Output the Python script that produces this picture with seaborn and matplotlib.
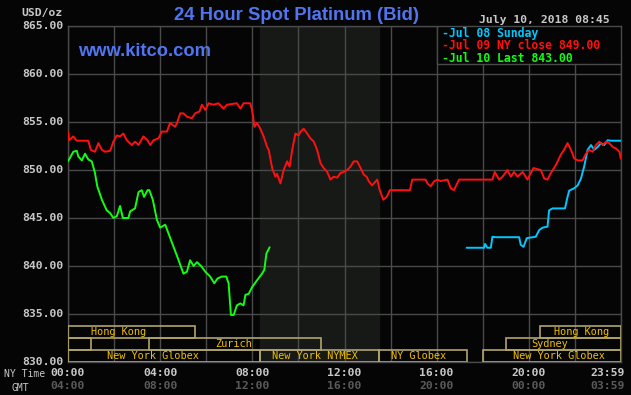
import matplotlib
matplotlib.use("Agg")
import matplotlib.pyplot as plt
import seaborn as sns
import pandas as pd
from matplotlib.patches import Rectangle

# ---------------- data ----------------
green_h = [0.0, 0.23, 0.38, 0.45, 0.6, 0.74, 0.88, 1.03, 1.17, 1.27, 1.47, 1.68, 1.83, 1.97,
           2.12, 2.26, 2.38, 2.62, 2.7, 2.91, 3.06, 3.2, 3.3, 3.45, 3.53, 3.68, 3.86, 4.0,
           4.22, 4.36, 4.58, 4.8, 5.01, 5.16, 5.3, 5.45, 5.6, 5.81, 5.96, 6.17, 6.35, 6.49,
           6.68, 6.87, 6.97, 7.07, 7.19, 7.33, 7.48, 7.62, 7.7, 7.84, 7.99, 8.2, 8.42, 8.52,
           8.61, 8.75]
green_p = [850.9, 851.9, 852.0, 851.4, 851.0, 851.7, 851.1, 850.9, 849.7, 848.3, 846.9, 845.8,
           845.5, 845.0, 845.2, 846.25, 845.0, 845.0, 845.7, 846.0, 847.7, 847.9, 847.2, 847.9,
           847.9, 846.9, 844.8, 844.0, 844.3, 843.4, 842.0, 840.6, 839.2, 839.4, 840.6, 840.0,
           840.4, 839.9, 839.4, 838.9, 838.2, 838.7, 838.9, 838.9, 838.2, 834.9, 834.9, 835.9,
           836.1, 835.9, 837.0, 837.1, 837.8, 838.5, 839.2, 839.6, 841.3, 841.95]

red_h = [0.0, 0.05, 0.23, 0.38, 0.88, 0.99, 1.17, 1.32, 1.47, 1.61, 1.83, 1.97, 2.12, 2.26,
         2.4, 2.55, 2.77, 2.91, 3.06, 3.27, 3.45, 3.57, 3.71, 3.93, 4.07, 4.29, 4.43, 4.65,
         4.73, 4.87, 5.01, 5.16, 5.38, 5.52, 5.71, 5.81, 5.96, 6.1, 6.32, 6.53, 6.75, 6.9,
         7.33, 7.48, 7.62, 7.91, 7.99, 8.09, 8.2, 8.35, 8.49, 8.64, 8.71, 8.86, 9.0, 9.07,
         9.22, 9.36, 9.51, 9.62, 9.73, 9.87, 10.01, 10.09, 10.23, 10.38, 10.52, 10.67, 10.81,
         10.96, 11.1, 11.25, 11.39, 11.53, 11.68, 11.83, 11.97, 12.12, 12.26, 12.4, 12.55,
         12.7, 12.84, 12.96, 13.06, 13.2, 13.35, 13.42, 13.53, 13.68, 13.83, 13.97, 14.84,
         14.94, 15.52, 15.6, 15.74, 15.88, 16.03, 16.17, 16.47, 16.61, 16.75, 16.97, 18.42,
         18.52, 18.71, 18.86, 19.07, 19.22, 19.36, 19.51, 19.73, 19.94, 20.09, 20.2, 20.52,
         20.67, 20.81, 20.96, 21.17, 21.39, 21.53, 21.68, 21.83, 21.97, 22.12, 22.33, 22.48,
         22.62, 22.77, 22.91, 23.06, 23.2, 23.35, 23.49, 23.64, 23.78, 23.93, 23.99]
red_p = [854.0, 853.1, 853.5, 853.05, 853.05, 852.1, 851.9, 852.8, 852.1, 851.9, 852.0, 852.95,
         853.6, 853.5, 853.8, 853.1, 852.6, 852.95, 852.6, 853.5, 853.1, 852.6, 853.1, 853.3,
         854.0, 854.0, 854.9, 854.5, 854.9, 855.9, 855.9, 855.55, 855.4, 855.9, 856.1, 856.8,
         856.25, 856.95, 856.8, 856.95, 856.4, 856.8, 856.95, 856.4, 856.95, 856.95, 856.25,
         854.5, 854.9, 854.3, 853.5, 852.4, 852.1, 850.2, 849.3, 849.6, 848.6, 850.0, 850.9,
         850.35, 852.1, 853.8, 853.6, 854.0, 854.3, 853.8, 853.3, 852.95, 852.1, 850.7, 850.2,
         849.8, 849.0, 849.3, 849.2, 849.7, 849.8, 850.0, 850.35, 850.9, 850.9, 850.2, 849.5,
         849.3, 848.8, 848.4, 848.8, 849.0, 847.9, 846.9, 847.2, 847.9, 847.9, 849.0, 849.0,
         848.6, 848.3, 848.8, 849.0, 848.85, 849.0, 848.1, 847.9, 849.0, 849.0, 849.8, 849.0,
         849.3, 850.0, 849.3, 849.8, 849.3, 849.8, 849.0, 849.7, 850.2, 850.0, 849.1, 849.0,
         849.7, 850.5, 851.6, 852.1, 852.8, 852.1, 851.2, 851.0, 851.0, 851.7, 852.1, 851.9,
         852.6, 852.95, 852.6, 852.95, 852.8, 852.4, 852.25, 851.9, 851.2]

cyan_h = [17.3, 18.06, 18.1, 18.2, 18.35, 18.42, 18.57, 19.58, 19.65, 19.77, 19.91, 20.3,
          20.45, 20.6, 20.81, 20.88, 21.03, 21.57, 21.65, 21.75, 21.97, 22.12, 22.26, 22.4,
          22.55, 22.7, 22.84, 22.99, 23.13, 23.27, 23.42, 23.57, 24.0]
cyan_p = [841.9, 841.9, 842.3, 841.9, 841.9, 843.05, 843.0, 843.0, 842.2, 842.0, 842.9, 843.05,
          843.75, 844.0, 844.1, 845.8, 846.0, 846.0, 846.9, 847.85, 848.1, 848.4, 849.1, 850.35,
          852.1, 852.6, 852.1, 852.4, 852.8, 852.6, 853.1, 853.05, 853.05]

y_ticks = [830, 835, 840, 845, 850, 855, 860, 865]
x_ticks = [0, 4, 8, 12, 16, 20, 24]
ny_labels = ["00:00", "04:00", "08:00", "12:00", "16:00", "20:00", "23:59"]
gmt_labels = ["04:00", "08:00", "12:00", "16:00", "20:00", "00:00", "03:59"]

legend_labels = ["Jul 08 Sunday", "Jul 09 NY close 849.00", "Jul 10 Last 843.00"]
legend_colors = ["#00c8ff", "#ff1010", "#10ff10"]

# sessions: (row, start hour, end hour, label)
session_row = [0, 0, 1, 1, 1, 2, 2, 2, 2]
session_start = [0.0, 20.5, 0.0, 3.5, 19.0, 0.0, 8.33, 13.5, 18.0]
session_end = [5.5, 24.0, 1.0, 11.0, 24.0, 8.33, 13.5, 17.33, 24.0]
session_label = ["Hong Kong", "Hong Kong", "", "Zurich", "Sydney", "New York Globex",
                 "New York NYMEX", "NY Globex", "New York Globex"]
session_text_x = [2.2, 22.3, None, 7.2, 20.9, 3.7, 10.7, 15.2, 21.3]

# ---------------- figure ----------------
sns.set_style("dark")
BG = "#050505"
GRID = "#4a4a4a"
plt.rcParams["font.family"] = ["DejaVu Sans Mono"]

fig = plt.figure(figsize=(6.31, 3.95), dpi=100, facecolor=BG)
W, H = 631, 395
ax = fig.add_axes([68 / W, (H - 362) / H, (621 - 68) / W, (362 - 26) / H])
ax.set_facecolor(BG)
ax.set_xlim(0, 24)
ax.set_ylim(830, 865)

# NYMEX shading
ax.axvspan(8.33, 13.5, color="#161916", zorder=0)

# grid
for yv in y_ticks:
    ax.axhline(yv, color=GRID, lw=1.0, zorder=1)
for xv in range(0, 25, 2):
    ax.axvline(xv, color=GRID, lw=1.0, zorder=1)

df_g = pd.DataFrame({"h": green_h, "p": green_p})
df_r = pd.DataFrame({"h": red_h, "p": red_p})
df_c = pd.DataFrame({"h": cyan_h, "p": cyan_p})
sns.lineplot(data=df_c, x="h", y="p", ax=ax, color=legend_colors[0], lw=1.4, zorder=4,
             estimator=None, sort=False)
sns.lineplot(data=df_r, x="h", y="p", ax=ax, color=legend_colors[1], lw=1.4, zorder=4,
             estimator=None, sort=False)
sns.lineplot(data=df_g, x="h", y="p", ax=ax, color=legend_colors[2], lw=1.4, zorder=5,
             estimator=None, sort=False)

# session boxes
row_h = 1.25
for r, s, e, lab, tx in zip(session_row, session_start, session_end, session_label, session_text_x):
    y0 = 830 + (2 - r) * row_h
    ax.add_patch(Rectangle((s, y0), e - s, row_h, fill=False, ec="#b0a46c", lw=1.2, zorder=6))
    if lab:
        ax.text(tx, y0 + row_h / 2, lab, color="#f0c000", fontsize=7.4, ha="center",
                va="center", zorder=7)

# legend box (top right)
ax.add_patch(Rectangle((16.0, 861.0), 8.0, 4.0, fc=BG, ec=GRID, lw=1.0, zorder=6))
for i, (lab, col) in enumerate(zip(legend_labels, legend_colors)):
    ax.text(16.25, 864.25 - i * 1.3, "-" + lab, color=col, fontsize=8.3, fontweight="bold",
            ha="left", va="center", zorder=7)

ax.set_xticks([])
ax.set_yticks([])
ax.set_xlabel("")
ax.set_ylabel("")
for sp in ax.spines.values():
    sp.set_color(GRID)
    sp.set_linewidth(1.0)

# y labels
for yv in y_ticks:
    ax.text(-0.2, yv, f"{yv:.2f}", color="#c8c8c8", fontsize=8.2, fontweight="bold",
            ha="right", va="center", transform=ax.transData, clip_on=False)
fig.text(63 / W, 1 - 13 / H, "USD/oz", color="#c8c8c8", fontsize=8.2, fontweight="bold",
         ha="right", va="center")

# x labels
for xv, nl, gl in zip(x_ticks, ny_labels, gmt_labels):
    xp = xv if xv < 24 else 23.4
    ax.text(xp, 828.9, nl, color="#c8c8c8", fontsize=8.2, fontweight="bold",
            ha="center", va="center", clip_on=False)
    ax.text(xp, 827.45, gl, color="#5a5a5a", fontsize=8.2, fontweight="bold",
            ha="center", va="center", clip_on=False)
fig.text(4 / W, 1 - 374 / H, "NY Time", color="#c8c8c8", fontsize=7.0, ha="left", va="center")
fig.text(12 / W, 1 - 388 / H, "GMT", color="#c8c8c8", fontsize=7.0, ha="left", va="center")

# titles
fig.text(296 / W, 1 - 15 / H, "24 Hour Spot Platinum (Bid)", color="#4f76f0",
         fontsize=13.3, fontweight="bold", family=["Liberation Sans"], ha="center", va="center")
fig.text(78 / W, 1 - 52 / H, "www.kitco.com", color="#4f76f0", fontsize=13.2,
         fontweight="bold", family=["Liberation Sans"], ha="left", va="center")
fig.text(610 / W, 1 - 20 / H, "July 10, 2018 08:45", color="#c8c8c8", fontsize=8.2,
         fontweight="bold", ha="right", va="center")

fig.savefig("out.png", dpi=100, facecolor=BG)
